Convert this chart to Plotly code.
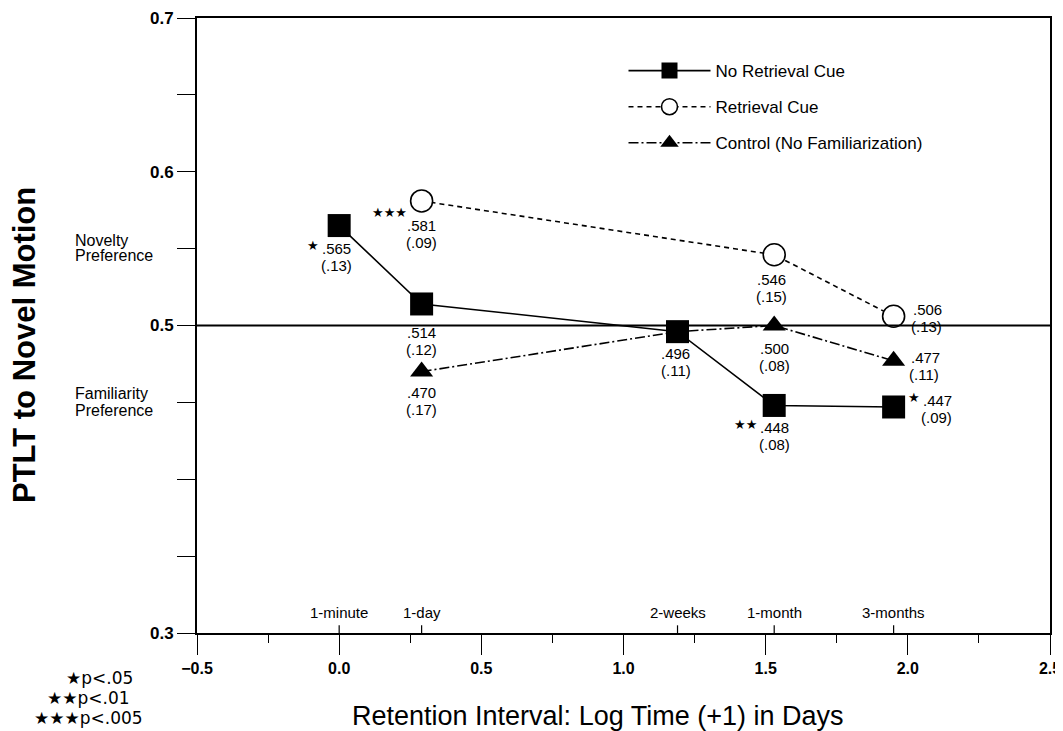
import plotly.graph_objects as go

# ---------------- data ----------------
time_labels = ["1-minute", "1-day", "2-weeks", "1-month", "3-months"]
time_x = [0.0, 0.29, 1.19, 1.53, 1.95]

nrc_name = "No Retrieval Cue"
nrc_idx = [0, 1, 2, 3, 4]
nrc_y = [0.565, 0.514, 0.496, 0.448, 0.447]
nrc_sd = [0.13, 0.12, 0.11, 0.08, 0.09]
nrc_sig = [1, 0, 0, 2, 1]

rc_name = "Retrieval Cue"
rc_idx = [1, 3, 4]
rc_y = [0.581, 0.546, 0.506]
rc_sd = [0.09, 0.15, 0.13]
rc_sig = [3, 0, 0]

ctrl_name = "Control (No Familiarization)"
ctrl_idx = [1, 2, 3, 4]
ctrl_y = [0.470, 0.496, 0.500, 0.477]
ctrl_sd = [0.17, None, 0.08, 0.11]
ctrl_sig = [0, 0, 0, 0]

y_tickvals = [0.3, 0.35, 0.4, 0.45, 0.5, 0.55, 0.6, 0.65, 0.7]
y_ticktext = ["0.3", "", "", "", "0.5", "", "0.6", "", "0.7"]
x_tickvals = [-0.5, 0.0, 0.5, 1.0, 1.5, 2.0, 2.5]
sig_key = ["★p<.05", "★★p<.01", "★★★p<.005"]

# ---------------- label placement styles (px) ----------------
# (side, dx, dy of first line centre; positive = downward)
nrc_lab = [("below", -3, 23), ("below", 0, 29), ("below", -2, 22), ("below", 0, 22), ("right", 27, -6)]
rc_lab = [("below", 0, 25), ("below", -3, 25), ("right", 17, -7)]
ctrl_lab = [("below", 0, 21), None, ("below", 0, 23), ("right", 15, -3)]
LINE_GAP = 17

FONT = "Liberation Sans, Arial, sans-serif"
BLACK = "#000000"

fig = go.Figure()

fig.add_trace(go.Scatter(
    x=[time_x[i] for i in ctrl_idx], y=ctrl_y, mode="lines+markers", name=ctrl_name,
    legendgroup="c", legendrank=3,
    line=dict(color=BLACK, width=1.6, dash="10px,3px,2px,3px"),
    marker=dict(symbol="triangle-up", size=20, color=BLACK)))
fig.add_trace(go.Scatter(
    x=[time_x[i] for i in rc_idx], y=rc_y, mode="lines+markers", name=rc_name,
    legendgroup="b", legendrank=2,
    line=dict(color=BLACK, width=1.6, dash="5px,4px"),
    marker=dict(symbol="circle", size=22, color="white", line=dict(color=BLACK, width=1.6))))
fig.add_trace(go.Scatter(
    x=[time_x[i] for i in nrc_idx], y=nrc_y, mode="lines+markers", name=nrc_name,
    legendgroup="a", legendrank=1,
    line=dict(color=BLACK, width=1.6),
    marker=dict(symbol="square", size=23, color=BLACK)))

ann = []


def fmt(v):
    return f"{v:.3f}"[1:]


def fmt_sd(v):
    return "(" + f"{v:.2f}"[1:] + ")"


def txt_ann(x, y, text, xanchor, dx, dy, size=15, family=FONT):
    return dict(x=x, y=y, xref="x", yref="y", text=text, showarrow=False,
                xanchor=xanchor, yanchor="middle", xshift=dx, yshift=-dy,
                font=dict(size=size, color=BLACK, family=family))


def add_labels(idx, ys, sds, sigs, labs):
    for k, i in enumerate(idx):
        lab = labs[k]
        if lab is None or sds[k] is None:
            continue
        side, dx, dy = lab
        stars = "★" * sigs[k]
        xa = "center" if side == "below" else "left"
        ann.append(txt_ann(time_x[i], ys[k], fmt(ys[k]), xa, dx, dy))
        ann.append(txt_ann(time_x[i], ys[k], fmt_sd(sds[k]), xa, dx - (0 if side == "below" else 2), dy + LINE_GAP))
        if stars:
            sx = dx - 15 if side == "below" else dx + 1
            ann.append(txt_ann(time_x[i], ys[k], stars, "right", sx, dy - 3, size=13, family="DejaVu Sans"))


add_labels(nrc_idx, nrc_y, nrc_sd, nrc_sig, nrc_lab)
add_labels(rc_idx, rc_y, rc_sd, rc_sig, rc_lab)
add_labels(ctrl_idx, ctrl_y, ctrl_sd, ctrl_sig, ctrl_lab)

# the three stars of the 1-day retrieval-cue point sit level with the marker
for a in ann:
    if a["text"] == "★★★":
        a["yshift"] = -12
        a["xshift"] = -13

# time point labels above the x axis
for tx, tl in zip(time_x, time_labels):
    ann.append(dict(x=tx, y=0.3, xref="x", yref="y", text=tl, showarrow=False,
                    xanchor="center", yanchor="middle", yshift=21,
                    font=dict(size=15, color=BLACK, family=FONT)))

# preference notes (left of the axis)
side_notes = [("Novelty", 240), ("Preference", 255), ("Familiarity", 394), ("Preference", 410)]
for txt, py in side_notes:
    ann.append(dict(x=-0.145, y=(633 - py) / 615, xref="paper", yref="paper", text=txt,
                    showarrow=False, xanchor="left", yanchor="middle",
                    font=dict(size=16, color=BLACK, family=FONT)))

ann.append(dict(x=-0.203, y=0.468, xref="paper", yref="paper", text="PTLT to Novel Motion",
                showarrow=False, textangle=-90, xanchor="center", yanchor="middle",
                font=dict(size=31, color=BLACK, family=FONT, weight="bold")))
ann.append(dict(x=0.470, y=-0.135, xref="paper", yref="paper",
                text="Retention Interval: Log Time (+1) in Days",
                showarrow=False, xanchor="center", yanchor="middle",
                font=dict(size=27, color=BLACK, family=FONT)))
key_pos = [(135, 678), (132, 698), (145, 718)]
for s, (px, py) in zip(sig_key, key_pos):
    ann.append(dict(x=(px - 197) / 853, y=(633 - py) / 615, xref="paper", yref="paper", text=s,
                    showarrow=False, xanchor="right", yanchor="middle",
                    font=dict(size=17, color=BLACK, family="DejaVu Sans")))

shapes = [dict(type="line", xref="paper", x0=0, x1=1, yref="y", y0=0.5, y1=0.5,
               line=dict(color=BLACK, width=2))]
for tx in time_x:
    shapes.append(dict(type="line", xref="x", x0=tx, x1=tx, yref="y", y0=0.3, y1=0.305,
                       line=dict(color=BLACK, width=1.2)))

fig.update_layout(
    width=1055, height=723,
    margin=dict(l=189, r=13, t=10, b=98),
    paper_bgcolor="white", plot_bgcolor="white",
    font=dict(family=FONT, color=BLACK),
    showlegend=True,
    legend=dict(x=0.50, y=0.943, xanchor="left", yanchor="top",
                bgcolor="rgba(0,0,0,0)", borderwidth=0,
                font=dict(size=17, color=BLACK, family=FONT),
                itemwidth=82, tracegroupgap=11, traceorder="grouped"),
    xaxis=dict(range=[-0.5, 2.5], tickvals=x_tickvals, tickformat=".1f",
               ticks="outside", ticklen=20, tickwidth=1.4, tickcolor=BLACK,
               showline=True, linewidth=2, linecolor=BLACK, mirror=True,
               showgrid=False, zeroline=False, automargin=False,
               minor=dict(dtick=0.25, ticks="outside", ticklen=8, tickcolor=BLACK, tickwidth=1.2),
               tickfont=dict(size=16, color=BLACK, family=FONT, weight="bold")),
    yaxis=dict(range=[0.3, 0.7], tickvals=y_tickvals, ticktext=y_ticktext,
               ticks="outside", ticklen=18, tickwidth=1.4, tickcolor=BLACK,
               showline=True, linewidth=2, linecolor=BLACK, mirror=True,
               showgrid=False, zeroline=False, automargin=False,
               tickfont=dict(size=17, color=BLACK, family=FONT, weight="bold")),
    annotations=ann,
    shapes=shapes,
)

fig.write_html("out.html")
